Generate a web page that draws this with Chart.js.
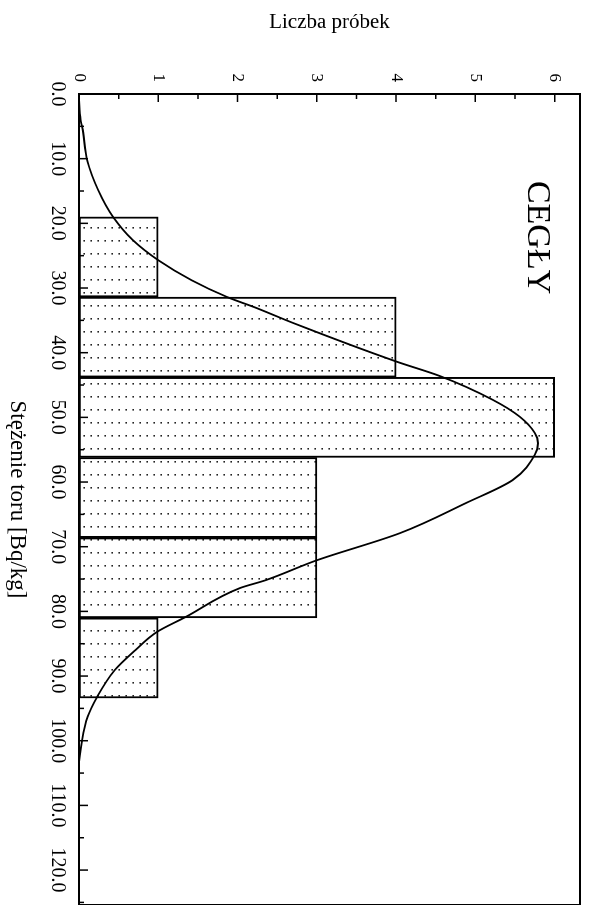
<!DOCTYPE html>
<html>
<head>
<meta charset="utf-8">
<script src="https://cdn.jsdelivr.net/npm/chart.js@4"></script>
<style>
  html, body { margin: 0; padding: 0; background: #fff; overflow: hidden; }
  #wrap { position: absolute; left: 0; top: 0; width: 905px; height: 592px;
          transform-origin: 0 0; transform: translate(592px, 0) rotate(90deg); }
</style>
</head>
<body>
<div id="wrap"><canvas id="c" width="905" height="592"></canvas></div>
<script>
// ---- data ----
const chartTitle = "CEGŁY";
const xAxisTitle = "Stężenie toru [Bq/kg]";
const yAxisTitle = "Liczba próbek";
const binCenters = [25.2, 37.6, 50.0, 62.4, 74.8, 87.2];
const binCounts  = [1, 4, 6, 3, 3, 1];
const curveConc  = [0.5, 4.0, 5.1, 10.5, 14.8, 19.0, 22.6, 25.7, 28.8, 31.4, 33.1, 35.4, 41.4, 43.6, 47.3, 49.9, 52.4, 54.0, 55.8, 59.7, 63.2, 67.9, 72.1, 75.2, 76.4, 80.9, 83.2, 86.0, 89.1, 93.2, 96.3, 99.9, 104.0, 108.0];
const curveCount = [0.00, 0.02, 0.04, 0.11, 0.24, 0.43, 0.68, 1.00, 1.42, 1.87, 2.24, 2.70, 4.01, 4.55, 5.22, 5.56, 5.75, 5.79, 5.75, 5.47, 4.89, 4.05, 3.00, 2.35, 2.03, 1.34, 0.98, 0.71, 0.45, 0.23, 0.11, 0.04, 0.00, 0.00];
const xTicks = [0, 10, 20, 30, 40, 50, 60, 70, 80, 90, 100, 110, 120];
const xMinorTicks = [5, 15, 25, 35, 45, 55, 65, 75, 85, 95, 105, 115, 125];
const yTicks = [0, 1, 2, 3, 4, 5, 6];
const yMinorTicks = [0.5, 1.5, 2.5, 3.5, 4.5, 5.5];

// ---- dotted fill pattern ----
const pc = document.createElement('canvas');
pc.width = 13; pc.height = 7;
const pctx = pc.getContext('2d');
pctx.fillStyle = '#fff'; pctx.fillRect(0, 0, 13, 7);
pctx.fillStyle = '#222'; pctx.fillRect(6, 3, 1.6, 1.6);
const ctx = document.getElementById('c').getContext('2d');
const dots = ctx.createPattern(pc, 'repeat');

const serif = "'Liberation Serif', 'Times New Roman', serif";

const decor = {
  id: 'decor',
  afterDatasetsDraw(chart) {
    const {ctx, chartArea: a, scales: {x, y}} = chart;
    ctx.save();
    ctx.strokeStyle = '#000';
    ctx.lineWidth = 1.5;
    ctx.beginPath();
    yTicks.forEach(v => { const p = y.getPixelForValue(v); ctx.moveTo(a.left, p); ctx.lineTo(a.left + 8, p); });
    yMinorTicks.forEach(v => { const p = y.getPixelForValue(v); ctx.moveTo(a.left, p); ctx.lineTo(a.left + 5, p); });
    xTicks.forEach(v => { const p = x.getPixelForValue(v); ctx.moveTo(p, a.bottom); ctx.lineTo(p, a.bottom - 9); });
    xMinorTicks.forEach(v => { const p = x.getPixelForValue(v); ctx.moveTo(p, a.bottom); ctx.lineTo(p, a.bottom - 5); });
    ctx.stroke();
    ctx.lineWidth = 2;
    ctx.beginPath();
    ctx.moveTo(a.left, a.top); ctx.lineTo(a.right, a.top);
    ctx.moveTo(a.right, a.top); ctx.lineTo(a.right, a.bottom);
    ctx.stroke();
    ctx.fillStyle = '#000';
    ctx.font = "34px " + serif;
    ctx.textAlign = 'center';
    ctx.textBaseline = 'middle';
    ctx.fillText(chartTitle, x.getPixelForValue(22.2), y.getPixelForValue(5.78));
    ctx.restore();
  }
};

new Chart(ctx, {
  data: {
    datasets: [
      {
        type: 'bar',
        data: binCenters.map((c, i) => ({x: c, y: binCounts[i]})),
        backgroundColor: dots,
        borderColor: '#000',
        borderWidth: 2,
        borderSkipped: false,
        barThickness: 'flex',
        categoryPercentage: 1.0,
        barPercentage: 1.0,
        order: 2
      },
      {
        type: 'scatter',
        data: curveConc.map((c, i) => ({x: c, y: curveCount[i]})),
        showLine: true,
        borderColor: '#000',
        borderWidth: 1.8,
        pointRadius: 0,
        cubicInterpolationMode: 'monotone',
        fill: false,
        order: 1
      }
    ]
  },
  options: {
    responsive: false,
    animation: false,
    devicePixelRatio: 1,
    layout: { padding: { top: 12, right: 0, bottom: 0, left: 0 } },
    plugins: { legend: { display: false }, tooltip: { enabled: false } },
    scales: {
      x: {
        type: 'linear',
        position: 'bottom',
        offset: false,
        min: 0, max: 125.4,
        afterBuildTicks: s => { s.ticks = xTicks.map(v => ({value: v})); },
        afterFit: s => { s.height = 79; s.paddingLeft = 0; s.paddingRight = 0; },
        grid: { display: false, drawTicks: false, offset: false },
        border: { display: true, color: '#000', width: 2 },
        ticks: { autoSkip: false, maxRotation: 0, padding: 10, color: '#000',
                 font: { family: serif, size: 20 },
                 callback: v => Number(v).toFixed(1) },
        title: { display: true, text: xAxisTitle, color: '#000',
                 font: { family: serif, size: 23 }, padding: { top: 0, bottom: 3 } }
      },
      y: {
        type: 'linear',
        position: 'left',
        min: 0, max: 6.32,
        afterBuildTicks: s => { s.ticks = yTicks.map(v => ({value: v})); },
        afterFit: s => { s.width = 94; s.paddingTop = 0; s.paddingBottom = 0; },
        grid: { display: false, drawTicks: false },
        border: { display: true, color: '#000', width: 2 },
        ticks: { autoSkip: false, padding: 12, color: '#000',
                 font: { family: serif, size: 17 } },
        title: { display: true, text: yAxisTitle, color: '#000',
                 font: { family: serif, size: 21 }, padding: { top: 10, bottom: 0 } }
      }
    }
  },
  plugins: [decor]
});
</script>
</body>
</html>
